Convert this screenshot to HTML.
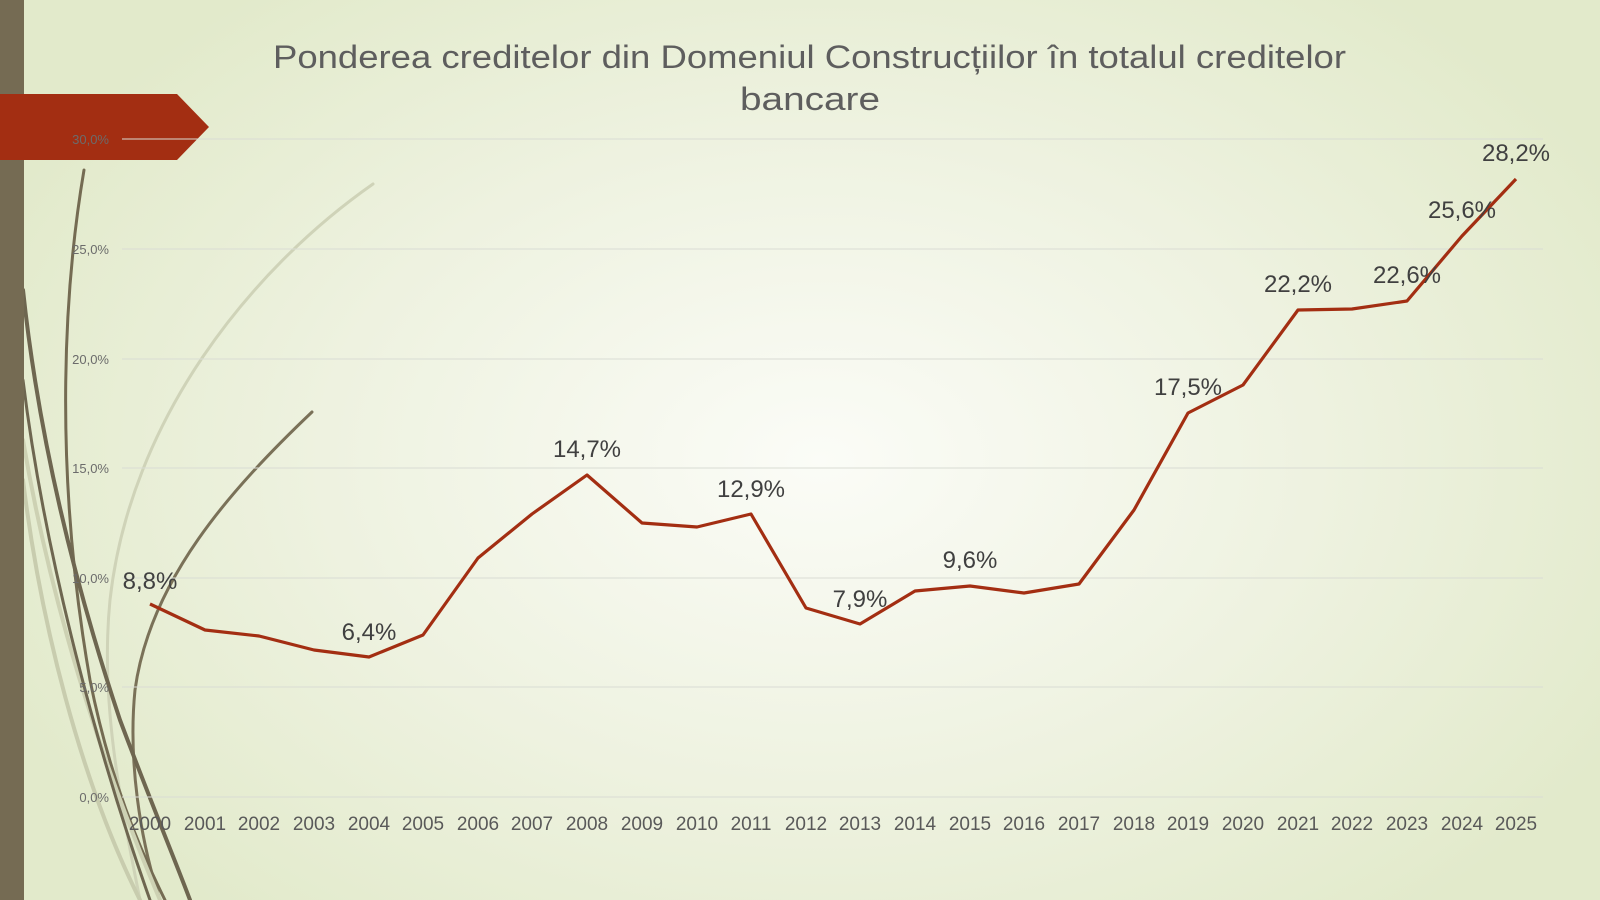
<!DOCTYPE html>
<html><head><meta charset="utf-8"><style>
html,body{margin:0;padding:0;width:1600px;height:900px;overflow:hidden}
body{background:radial-gradient(ellipse 900px 600px at 820px 460px,#fbfcf7 0%,#eef2e0 55%,#e2eacb 100%);font-family:"Liberation Sans",sans-serif}
</style></head><body>
<svg width="1600" height="900" viewBox="0 0 1600 900" style="position:absolute;left:0;top:0">
<g fill="none" stroke-linecap="round">
<path d="M373,184 C250,270 130,420 110,600 C100,700 120,800 140,900" stroke="#cfd3b8" stroke-width="3"/>
<path d="M312,412 C230,490 150,580 135,690 C128,760 140,840 160,900" stroke="#7a7158" stroke-width="3"/>
<path d="M84,170 C62,300 55,480 90,680 C110,780 140,850 165,900" stroke="#746b52" stroke-width="3"/>
<path d="M23,290 C40,450 80,600 120,720 C150,800 175,860 190,900" stroke="#6e6650" stroke-width="4"/>
<path d="M23,440 C50,600 100,760 160,900" stroke="#cdd1b3" stroke-width="4"/>
<path d="M23,480 C40,620 80,780 140,900" stroke="#c8ccae" stroke-width="4"/>
<path d="M23,380 C45,560 100,760 150,900" stroke="#6e6650" stroke-width="3"/>
</g>
<rect x="0" y="0" width="24" height="900" fill="#756b53"/>
<polygon points="0,94 177,94 209,127 177,160 0,160" fill="#a32e12"/>
<g stroke="#d9dcd4" stroke-width="1">
<line x1="122" y1="139" x2="1543" y2="139"/>
<line x1="122" y1="249" x2="1543" y2="249"/>
<line x1="122" y1="359" x2="1543" y2="359"/>
<line x1="122" y1="468" x2="1543" y2="468"/>
<line x1="122" y1="578" x2="1543" y2="578"/>
<line x1="122" y1="687" x2="1543" y2="687"/>
<line x1="122" y1="797" x2="1543" y2="797"/>
</g>
<g font-size="13" fill="#6b6b6b" text-anchor="end" font-family="Liberation Sans,sans-serif">
<text x="109" y="144">30,0%</text><text x="109" y="254">25,0%</text><text x="109" y="364">20,0%</text>
<text x="109" y="473">15,0%</text><text x="109" y="583">10,0%</text><text x="109" y="692">5,0%</text><text x="109" y="802">0,0%</text>
</g>
<g font-size="19" fill="#595959" text-anchor="middle">
<text x="150" y="830">2000</text><text x="205" y="830">2001</text><text x="259" y="830">2002</text><text x="314" y="830">2003</text><text x="369" y="830">2004</text><text x="423" y="830">2005</text><text x="478" y="830">2006</text><text x="532" y="830">2007</text><text x="587" y="830">2008</text><text x="642" y="830">2009</text><text x="697" y="830">2010</text><text x="751" y="830">2011</text><text x="806" y="830">2012</text><text x="860" y="830">2013</text><text x="915" y="830">2014</text><text x="970" y="830">2015</text><text x="1024" y="830">2016</text><text x="1079" y="830">2017</text><text x="1134" y="830">2018</text><text x="1188" y="830">2019</text><text x="1243" y="830">2020</text><text x="1298" y="830">2021</text><text x="1352" y="830">2022</text><text x="1407" y="830">2023</text><text x="1462" y="830">2024</text><text x="1516" y="830">2025</text>
</g>
<polyline fill="none" stroke="#a32e12" stroke-width="3.2" stroke-linejoin="round" points="150,604 205,630 259,636 314,650 369,657 423,635 478,558 532,514 587,475 642,523 697,527 751,514 806,608 860,624 915,591 970,586 1024,593 1079,584 1134,510 1188,413 1243,385 1298,310 1352,309 1407,301 1462,236 1516,179"/>
<g font-size="24" fill="#404040" text-anchor="middle">
<text x="150" y="589">8,8%</text><text x="369" y="640">6,4%</text><text x="587" y="457">14,7%</text><text x="751" y="497">12,9%</text><text x="860" y="607">7,9%</text><text x="970" y="568">9,6%</text><text x="1188" y="395">17,5%</text><text x="1298" y="292">22,2%</text><text x="1407" y="283">22,6%</text><text x="1462" y="218">25,6%</text><text x="1516" y="161">28,2%</text>
</g>
<g font-size="32" fill="#5e5e5e">
<text x="273" y="68" textLength="1073" lengthAdjust="spacingAndGlyphs">Ponderea creditelor din Domeniul Construcțiilor în totalul creditelor</text>
<text x="740" y="110" textLength="140" lengthAdjust="spacingAndGlyphs">bancare</text>
</g>
</svg>
</body></html>
